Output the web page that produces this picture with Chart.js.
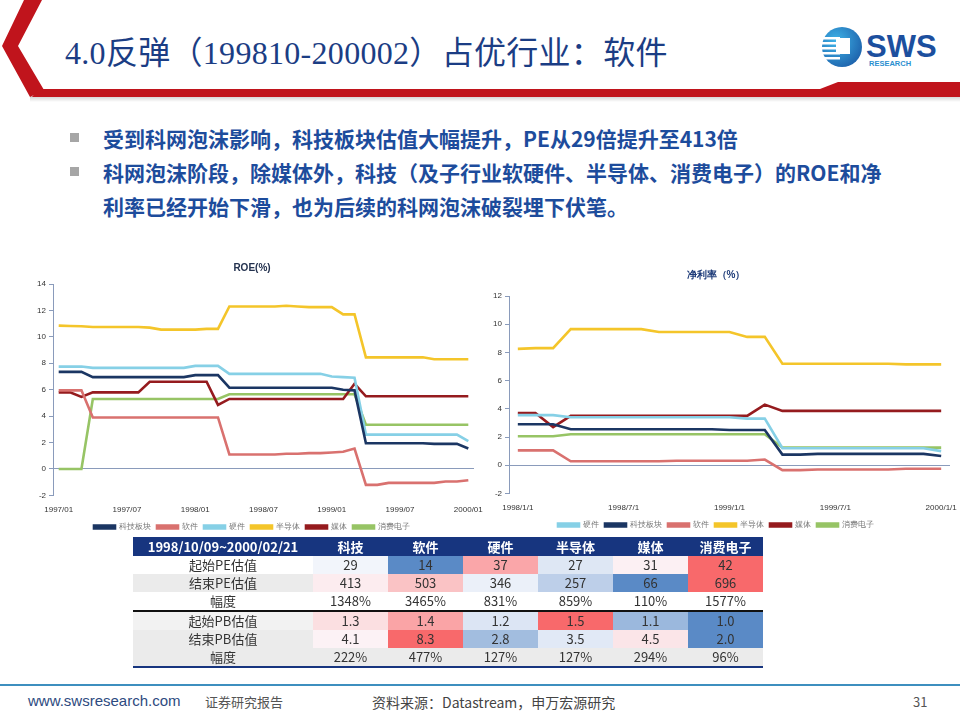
<!DOCTYPE html>
<html>
<head>
<meta charset="utf-8">
<script src="https://cdn.jsdelivr.net/npm/chart.js@4.4.1/dist/chart.umd.min.js"></script>
<style>
  html, body { margin: 0; padding: 0; background: #fff; }
  #slide { position: relative; width: 960px; height: 720px; overflow: hidden; background: #fff;
           font-family: "Noto Sans CJK SC", "Liberation Sans", sans-serif; }
  .title { position: absolute; left: 65px; top: 27px; font-size: 32px; color: #1b3d84;
           font-family: "Liberation Serif", "Noto Sans CJK SC", serif; letter-spacing: 0.3px; white-space: nowrap; }
  .bullets { position: absolute; left: 68px; top: 121px; color: #1d4c9c; font-weight: bold; font-size: 21px; line-height: 34px; }
  .bullets div { position: relative; padding-left: 35px; white-space: nowrap; }
  .bullets div::before { content: ""; position: absolute; left: 2px; top: 12px; width: 9px; height: 9px; background: #a6a6a6; }
  #roeBox { position: absolute; left: 30px; top: 256px; }
  #npmBox { position: absolute; left: 482px; top: 263px; }
  table { position: absolute; left: 133px; top: 537px; border-collapse: collapse; font-size: 13px; color: #333; }
  td, th { height: 18px; padding: 0; text-align: center; line-height: 18px; }
  th { background: #17357f; color: #fff; font-weight: bold; height: 19px; }
  td.lab { width: 180px; }
  td.val { width: 75px; }
  tr.sep td { border-top: 2px solid #111; }
  tr.last td { border-bottom: 2px solid #17357f; }
  .footer { position: absolute; top: 692px; font-size: 14px; white-space: nowrap; }
</style>
</head>
<body>
<div id="slide">
  <svg width="960" height="104" style="position:absolute;left:0;top:0">
    <defs>
      <linearGradient id="shade" x1="0" y1="0" x2="0" y2="1">
        <stop offset="0" stop-color="#cfcfcf"/>
        <stop offset="1" stop-color="#ffffff"/>
      </linearGradient>
      <radialGradient id="globe" cx="0.35" cy="0.35" r="0.8">
        <stop offset="0" stop-color="#3fb4e8"/>
        <stop offset="1" stop-color="#1a5aa6"/>
      </radialGradient>
    </defs>
    <rect x="30" y="96" width="930" height="6" fill="url(#shade)"/>
    <polygon points="24,0 42,0 18,46 44,90 30,97 2,46" fill="#c0141c"/>
    <polygon points="38,89 960,89 960,97 32,97" fill="#c0141c"/>
    <polygon points="820,89 838,82 960,82 960,89" fill="#c0141c"/>
    <circle cx="842" cy="47" r="20" fill="url(#globe)"/>
    <rect x="822" y="37" width="18" height="2.5" fill="#fff"/>
    <rect x="822" y="42" width="18" height="2.5" fill="#fff"/>
    <rect x="822" y="47" width="18" height="2.5" fill="#fff"/>
    <rect x="822" y="52" width="18" height="2.5" fill="#fff"/>
    <rect x="822" y="57" width="18" height="2.5" fill="#fff"/>
    <rect x="836" y="38" width="14" height="16" fill="#fff"/>
    <text x="866" y="57" font-family="Liberation Sans" font-weight="bold" font-size="31" fill="#1c4f9e">SWS</text>
    <text x="869" y="66" font-family="Liberation Sans" font-weight="bold" font-size="7.5" fill="#2a8fd0">RESEARCH</text>
  </svg>
  <div class="title">4.0反弹（199810-200002）占优行业：软件</div>
  <div class="bullets">
    <div>受到科网泡沫影响，科技板块估值大幅提升，PE从29倍提升至413倍</div>
    <div>科网泡沫阶段，除媒体外，科技（及子行业软硬件、半导体、消费电子）的ROE和净<br>利率已经开始下滑，也为后续的科网泡沫破裂埋下伏笔。</div>
  </div>

  <div id="roeBox"><canvas id="roeChart" width="455" height="285"></canvas></div>
  <div id="npmBox"><canvas id="npmChart" width="478" height="276"></canvas></div>

  <table id="valTable"></table>

  <div style="position:absolute;left:0;top:684px;width:960px;height:2px;background:#3d8fbf"></div>
  <div class="footer" style="left:28px;color:#2d4a80;font-family:'Liberation Sans Narrow','Liberation Sans',sans-serif;font-size:15px">www.swsresearch.com</div>
  <div class="footer" style="left:205px;color:#555;font-size:13px">证券研究报告</div>
  <div class="footer" style="left:372px;color:#444">资料来源：Datastream，申万宏源研究</div>
  <div class="footer" style="left:913px;color:#555;font-size:13px">31</div>
</div>

<script>
// ROE chart (monthly, 1997/01 - 2000/01)
const roeMonths = ['1997/01','1997/02','1997/03','1997/04','1997/05','1997/06','1997/07','1997/08','1997/09','1997/10','1997/11','1997/12',
  '1998/01','1998/02','1998/03','1998/04','1998/05','1998/06','1998/07','1998/08','1998/09','1998/10','1998/11','1998/12',
  '1999/01','1999/02','1999/03','1999/04','1999/05','1999/06','1999/07','1999/08','1999/09','1999/10','1999/11','1999/12','2000/01'];
const roeTech  = [7.35,7.35,7.35,6.95,6.95,6.95,6.95,6.95,6.95,6.95,6.95,6.95,7.1,7.1,7.1,6.15,6.15,6.15,6.15,6.15,6.15,6.15,6.15,6.15,6.15,6.0,5.95,1.95,1.95,1.95,1.95,1.95,1.95,1.9,1.9,1.9,1.55];
const roeSoft  = [5.95,5.95,5.95,3.9,3.9,3.9,3.9,3.9,3.9,3.9,3.9,3.9,3.9,3.9,3.9,1.1,1.1,1.1,1.1,1.1,1.15,1.15,1.2,1.2,1.25,1.3,1.55,-1.2,-1.2,-1.05,-1.05,-1.05,-1.05,-1.05,-0.95,-0.95,-0.85];
const roeHard  = [7.75,7.75,7.75,7.65,7.65,7.65,7.65,7.65,7.65,7.65,7.65,7.65,7.8,7.8,7.8,7.2,7.2,7.2,7.2,7.2,7.2,7.2,7.2,7.2,7.0,6.95,6.9,2.6,2.6,2.6,2.6,2.6,2.6,2.6,2.6,2.6,2.1];
const roeSemi  = [10.85,10.82,10.8,10.75,10.75,10.75,10.75,10.75,10.7,10.55,10.55,10.55,10.55,10.6,10.6,12.3,12.3,12.3,12.3,12.3,12.35,12.3,12.25,12.25,12.25,11.7,11.7,8.45,8.45,8.45,8.45,8.45,8.45,8.3,8.3,8.3,8.3];
const roeMedia = [5.8,5.8,5.45,5.8,5.8,5.8,5.8,5.8,6.6,6.6,6.6,6.6,6.6,6.6,4.85,5.3,5.3,5.3,5.3,5.3,5.3,5.3,5.3,5.3,5.3,5.3,6.45,5.5,5.5,5.5,5.5,5.5,5.5,5.5,5.5,5.5,5.5];
const roeCons  = [0,0,0,5.3,5.3,5.3,5.3,5.3,5.3,5.3,5.3,5.3,5.3,5.3,5.3,5.65,5.65,5.65,5.65,5.65,5.65,5.65,5.65,5.65,5.65,5.65,5.65,3.35,3.35,3.35,3.35,3.35,3.35,3.35,3.35,3.35,3.35];

// Net margin chart (monthly, 1998/1/1 - 2000/1/1)
const npmMonths = ['1998/1/1','1998/2/1','1998/3/1','1998/4/1','1998/5/1','1998/6/1','1998/7/1','1998/8/1','1998/9/1','1998/10/1','1998/11/1','1998/12/1',
  '1999/1/1','1999/2/1','1999/3/1','1999/4/1','1999/5/1','1999/6/1','1999/7/1','1999/8/1','1999/9/1','1999/10/1','1999/11/1','1999/12/1','2000/1/1'];
const npmHard  = [3.55,3.55,3.55,3.4,3.4,3.4,3.4,3.4,3.4,3.4,3.4,3.4,3.4,3.3,3.3,1.2,1.2,1.2,1.2,1.2,1.2,1.2,1.2,1.2,1.0];
const npmTech  = [2.9,2.9,2.9,2.55,2.55,2.55,2.55,2.55,2.55,2.55,2.55,2.55,2.5,2.5,2.5,0.75,0.75,0.8,0.8,0.8,0.8,0.8,0.8,0.8,0.65];
const npmSoft  = [1.05,1.05,1.05,0.28,0.28,0.28,0.28,0.28,0.28,0.32,0.32,0.32,0.32,0.32,0.4,-0.35,-0.35,-0.3,-0.3,-0.3,-0.3,-0.3,-0.25,-0.25,-0.25];
const npmSemi  = [8.25,8.3,8.3,9.65,9.65,9.65,9.65,9.65,9.45,9.45,9.45,9.45,9.45,9.1,9.1,7.2,7.2,7.2,7.2,7.2,7.2,7.2,7.15,7.15,7.15];
const npmMedia = [3.7,3.7,2.7,3.5,3.5,3.5,3.5,3.5,3.5,3.5,3.5,3.5,3.5,3.5,4.3,3.85,3.85,3.85,3.85,3.85,3.85,3.85,3.85,3.85,3.85];
const npmCons  = [2.05,2.05,2.05,2.2,2.2,2.2,2.2,2.2,2.2,2.2,2.2,2.2,2.2,2.2,2.2,1.25,1.25,1.25,1.25,1.25,1.25,1.25,1.25,1.25,1.25];

// valuation table
const tableHead = ['1998/10/09~2000/02/21', '科技', '软件', '硬件', '半导体', '媒体', '消费电子'];
const rowLabels = ['起始PE估值', '结束PE估值', '幅度', '起始PB估值', '结束PB估值', '幅度'];
const startPE = [29, 14, 37, 27, 31, 42];
const endPE   = [413, 503, 346, 257, 66, 696];
const chgPE   = ['1348%', '3465%', '831%', '859%', '110%', '1577%'];
const startPB = ['1.3', '1.4', '1.2', '1.5', '1.1', '1.0'];
const endPB   = ['4.1', '8.3', '2.8', '3.5', '4.5', '2.0'];
const chgPB   = ['222%', '477%', '127%', '127%', '294%', '96%'];

const C = {
  tech: '#1b3663', soft: '#d9716f', hard: '#86d0e6',
  semi: '#f4c52a', media: '#951b1e', cons: '#97c465'
};

function line(label, data, color) {
  return { label: label, data: data, borderColor: color, backgroundColor: color,
           borderWidth: 2.6, pointRadius: 0, tension: 0 };
}

function chartOptions(title, titleColor, titlePad, yMin, yMax, yWidth, padRight, labels) {
  return {
    responsive: false,
    animation: false,
    layout: { padding: { top: 2, right: padRight, left: 0, bottom: 0 } },
    plugins: {
      title: { display: true, text: title, color: titleColor,
               font: { size: 10, weight: 'bold', family: 'Liberation Sans' }, padding: { top: 4, bottom: titlePad } },
      legend: { position: 'bottom',
                labels: { boxWidth: 21, boxHeight: 3, color: '#777', padding: 6,
                          font: { size: 8, family: 'Liberation Sans' } } },
      tooltip: { enabled: false }
    },
    scales: {
      x: {
        offset: true,
        grid: { display: false },
        border: { display: false },
        ticks: { autoSkip: false, maxRotation: 0, color: '#333', padding: 2,
                 font: { size: 8, family: 'Liberation Sans' },
                 callback: (v, i) => (i % 6 === 0 ? labels[i] : '') }
      },
      y: {
        min: yMin, max: yMax,
        afterFit: (s) => { s.width = yWidth; },
        border: { display: true, color: '#8a9bbb', width: 1 },
        grid: { drawOnChartArea: true, tickLength: 4, tickColor: '#8a9bbb',
                color: (ctx) => (ctx.tick && ctx.tick.value === 0 ? '#8a9bbb' : 'rgba(0,0,0,0)') },
        ticks: { stepSize: 2, color: '#333', padding: 3, font: { size: 8, family: 'Liberation Sans' } }
      }
    }
  };
}

new Chart(document.getElementById('roeChart').getContext('2d'), {
  type: 'line',
  data: {
    labels: roeMonths,
    datasets: [
      line('科技板块', roeTech, C.tech),
      line('软件', roeSoft, C.soft),
      line('硬件', roeHard, C.hard),
      line('半导体', roeSemi, C.semi),
      line('媒体', roeMedia, C.media),
      line('消费电子', roeCons, C.cons)
    ]
  },
  options: chartOptions('ROE(%)', '#24324f', 10, -2, 14, 23, 11, roeMonths)
});

new Chart(document.getElementById('npmChart').getContext('2d'), {
  type: 'line',
  data: {
    labels: npmMonths,
    datasets: [
      line('硬件', npmHard, C.hard),
      line('科技板块', npmTech, C.tech),
      line('软件', npmSoft, C.soft),
      line('半导体', npmSemi, C.semi),
      line('媒体', npmMedia, C.media),
      line('消费电子', npmCons, C.cons)
    ]
  },
  options: chartOptions('净利率（%）', '#1c3a78', 15, -2, 12, 27, 10, npmMonths)
});

// heat colour: 3-colour scale blue (min) - white (median) - red (max)
function heat(values, v) {
  const nums = values.map(Number);
  const sorted = nums.slice().sort((a, b) => a - b);
  const mid = (sorted[2] + sorted[3]) / 2;
  const lo = sorted[0], hi = sorted[5];
  const blue = [90, 138, 198], white = [252, 252, 255], red = [248, 105, 107];
  let from, to, t;
  v = Number(v);
  if (v <= mid) { from = blue; to = white; t = (v - lo) / (mid - lo); }
  else { from = white; to = red; t = (v - mid) / (hi - mid); }
  const c = from.map((f, k) => Math.round(f + (to[k] - f) * t));
  return 'rgb(' + c.join(',') + ')';
}

function buildTable() {
  const table = document.getElementById('valTable');
  let html = '<tr>' + tableHead.map(h => '<th>' + h + '</th>').join('') + '</tr>';
  const rows = [startPE, endPE, chgPE, startPB, endPB, chgPB];
  const labBg = ['#fff', '#ebebeb', '#fff', '#f2f2f2', '#ebebeb', '#ebebeb'];
  rows.forEach((r, i) => {
    const cls = i === 3 ? ' class="sep"' : (i === 5 ? ' class="last"' : '');
    html += '<tr' + cls + '><td class="lab" style="background:' + labBg[i] + '">' + rowLabels[i] + '</td>';
    r.forEach(v => {
      let bg = '#fff';
      if (i === 5) bg = '#ebebeb';
      if (i === 0 || i === 1 || i === 3 || i === 4) bg = heat(r, v);
      html += '<td class="val" style="background:' + bg + '">' + v + '</td>';
    });
    html += '</tr>';
  });
  table.innerHTML = html;
}

buildTable();
</script>
</body>
</html>
